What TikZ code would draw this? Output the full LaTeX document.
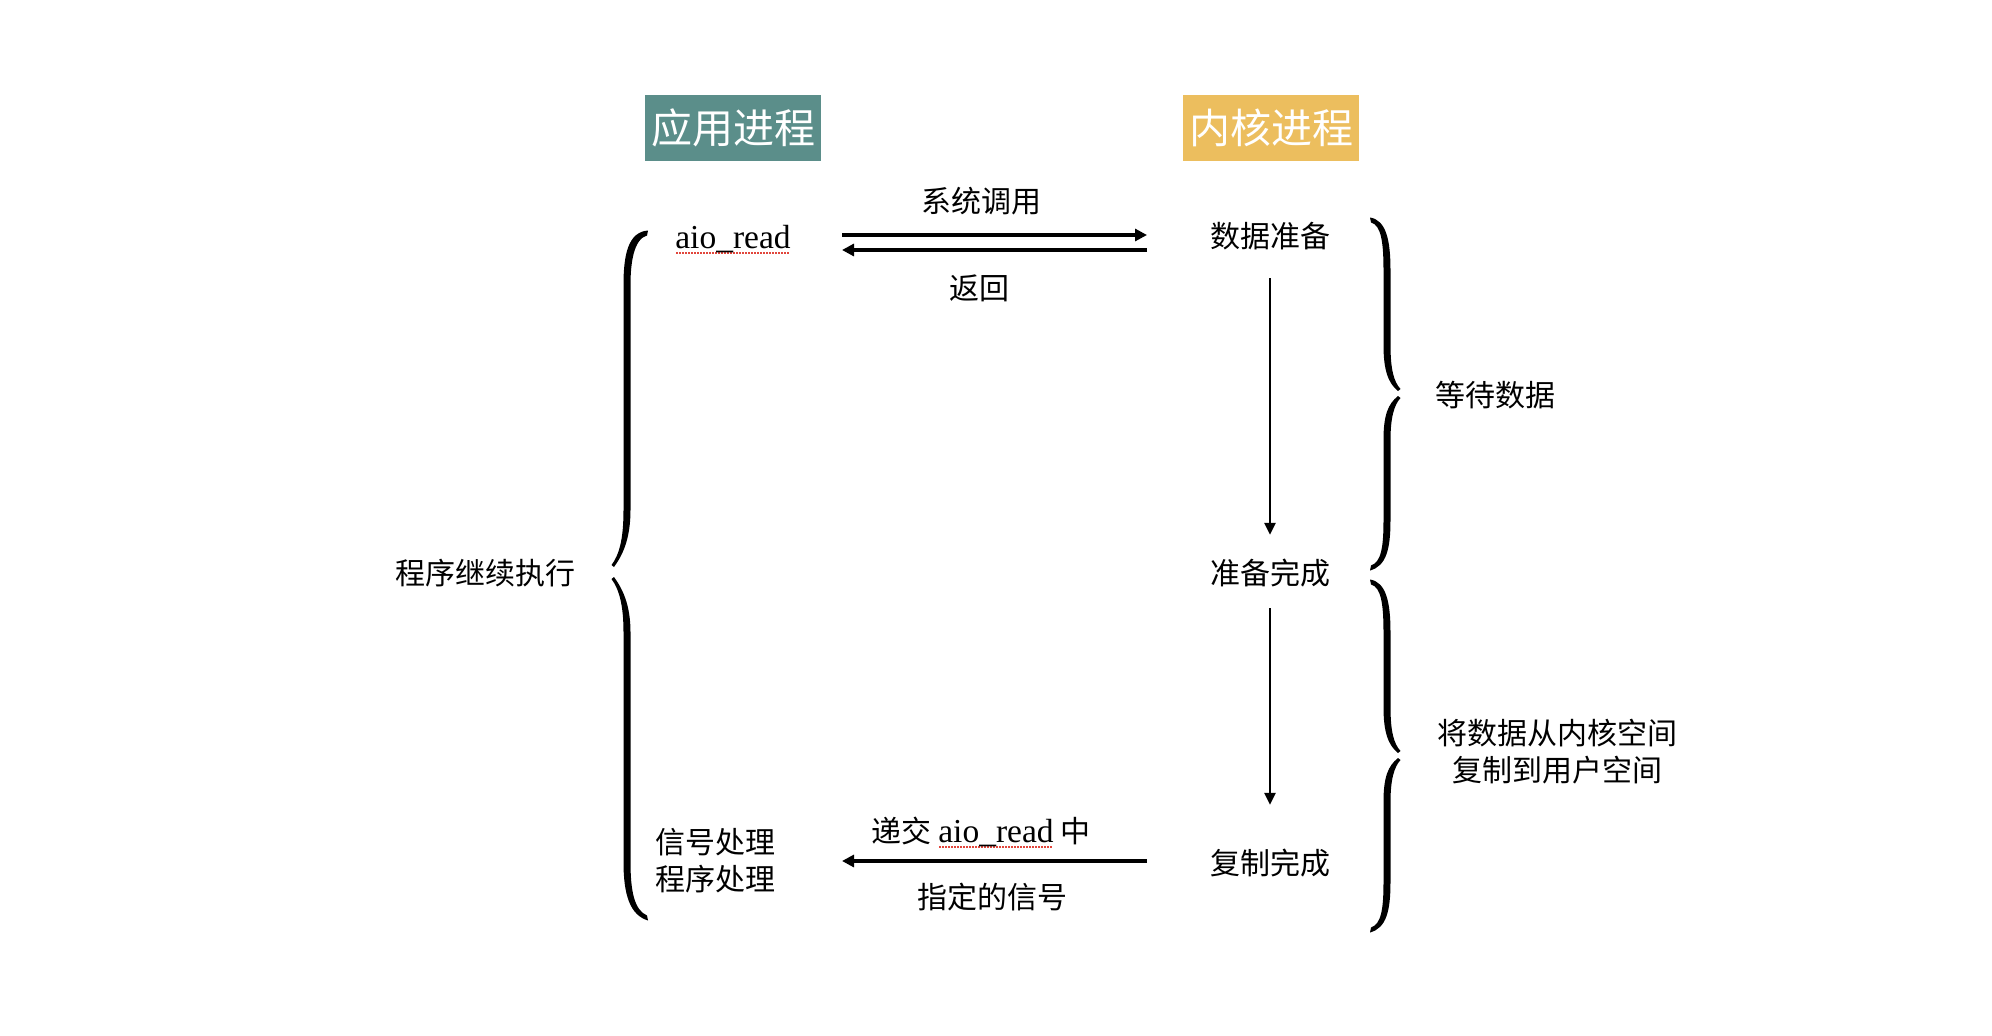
\documentclass[tikz,border=0pt]{standalone}
\usepackage{fontspec}
\setmainfont{Noto Sans CJK SC}
\newfontfamily\lat{Liberation Serif}
\usetikzlibrary{arrows.meta}
\definecolor{tealbox}{RGB}{91,142,138}
\definecolor{goldbox}{RGB}{236,190,94}
\definecolor{spellred}{RGB}{225,70,60}
\newcommand\spellul[1]{\setbox0\hbox{#1}\leavevmode\rlap{\raisebox{-5pt}[0pt][0pt]{\color{spellred}\leaders\hbox to 3pt{\hss\vrule width 1.4pt height 0.7pt depth 0.7pt\hss}\hskip\wd0}}\box0}
\newcommand\aioread{{\lat\fontsize{33.5}{37}\selectfont\spellul{aio\_read}}}
\begin{document}
\begin{tikzpicture}[x=1pt,y=-1pt,
  lbl/.style={font=\fontsize{30}{37}\selectfont, inner sep=0pt, align=center},
  titlebox/.style={font=\fontsize{41}{48}\selectfont, text=white, minimum width=176pt, minimum height=66pt, inner sep=0pt},
  harr/.style={line width=3.2pt, -{Triangle[length=12pt,width=12pt]}},
  varr/.style={line width=2.7pt, -{Triangle[length=12pt,width=11pt]}},
  bracefill/.style={fill=black}]
\useasboundingbox (0,0) rectangle (1992,1036);

% titles
\node[titlebox, fill=tealbox] (app) at (733,128) {应用进程};
\node[titlebox, fill=goldbox] (kern) at (1271,128) {内核进程};

% labels
\node[lbl, anchor=base] (aio) at (733,248) {\aioread};
\node[lbl] (syscall) at (981,201) {系统调用};
\node[lbl] (ret) at (979,288) {返回};
\node[lbl] (prep) at (1270,236) {数据准备};
\node[lbl] (ready) at (1270,573) {准备完成};
\node[lbl] (copied) at (1270,863) {复制完成};
\node[lbl, anchor=base] (deliver) at (981,842) {递交 \aioread{} 中};
\node[lbl] (signal) at (992,897) {指定的信号};
\node[lbl, align=left] (handler) at (715,861) {信号处理\\程序处理};
\node[lbl] (cont) at (485,573) {程序继续执行};
\node[lbl] (wait) at (1495,395) {等待数据};
\node[lbl] (copy) at (1557,752) {将数据从内核空间\\复制到用户空间};

% arrow end points
\coordinate (callL) at (842,235);
\coordinate (callR) at (1147,235);
\coordinate (retL) at (842,250);
\coordinate (retR) at (1147,250);
\coordinate (sigL) at (842,861);
\coordinate (sigR) at (1147,861);

\draw[harr] (callL) -- (callR);
\draw[harr] (retR) -- (retL);
\draw[harr] (sigR) -- (sigL);
\draw[varr, shorten <=28pt, shorten >=24pt] (prep) -- (ready);
\draw[varr, shorten <=21pt, shorten >=44pt] (ready) -- (copied);

% left brace (two tapered halves)
\fill[bracefill] (648,230.5) .. controls (628,232) and (623.5,255) .. (623.5,285)
  -- (623.5,510) .. controls (623.5,540) and (619,555) .. (611.5,565)
  -- (614,567) .. controls (622,556) and (630.5,540) .. (630.5,510)
  -- (630.5,285) .. controls (630.5,262) and (634,239) .. (647,235.5) -- cycle;
\fill[bracefill] (611.5,579) .. controls (619,589) and (623.5,605) .. (623.5,632)
  -- (623.5,862) .. controls (623.5,895) and (630,915) .. (648,920.5)
  -- (647,915.5) .. controls (634,910) and (630.5,890) .. (630.5,862)
  -- (630.5,632) .. controls (630.5,604) and (622,588) .. (614,577) -- cycle;

% right braces
\foreach \dy in {0,362}{
\begin{scope}[shift={(0,\dy)}]
\fill[bracefill] (1370,217.5) .. controls (1386,220) and (1390.5,240) .. (1390.5,270)
  -- (1390.5,345) .. controls (1390.5,370) and (1394,382) .. (1400.5,389)
  -- (1398,391) .. controls (1388,383) and (1383.5,370) .. (1383.5,345)
  -- (1383.5,270) .. controls (1383.5,242) and (1381,225) .. (1371,222.5) -- cycle;
\fill[bracefill] (1400.5,398) .. controls (1394,405) and (1390.5,418) .. (1390.5,440)
  -- (1390.5,520) .. controls (1390.5,550) and (1386,566) .. (1370,570.5)
  -- (1371,565.5) .. controls (1381,562) and (1383.5,548) .. (1383.5,520)
  -- (1383.5,440) .. controls (1383.5,415) and (1388,404) .. (1398,396) -- cycle;
\end{scope}}
\end{tikzpicture}
\end{document}
